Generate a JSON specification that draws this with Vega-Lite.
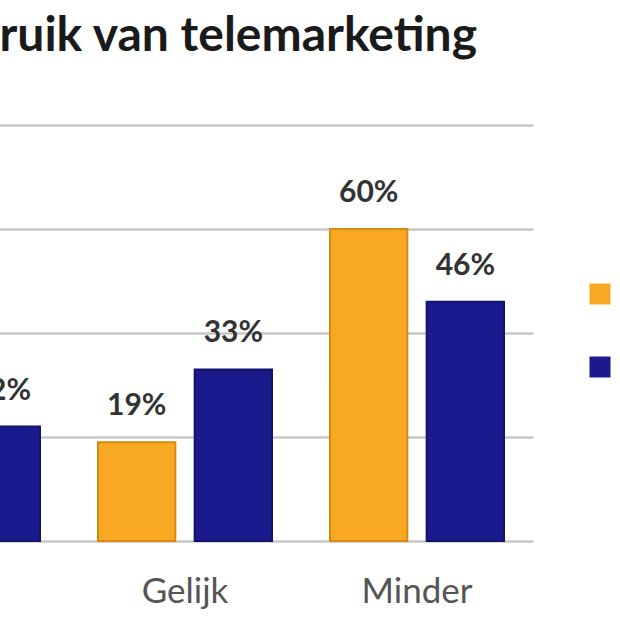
{
  "$schema": "https://vega.github.io/schema/vega-lite/v6.json",
  "autosize": "none",
  "padding": {"left": -163, "top": 125, "right": 87, "bottom": 79},
  "width": 696,
  "height": 416,
  "title": {
    "text": "Gebruik van telemarketing",
    "anchor": "start",
    "dx": 75,
    "offset": 26,
    "baseline": "alphabetic",
    "fontSize": 48,
    "font": "Lato",
    "fontWeight": "bold",
    "color": "#1a1a1a"
  },
  "data": {
    "values": [
      {"groep": "Meer", "reeks": "2008", "pct": 0.21},
      {"groep": "Meer", "reeks": "2009", "pct": 0.22},
      {"groep": "Gelijk", "reeks": "2008", "pct": 0.19},
      {"groep": "Gelijk", "reeks": "2009", "pct": 0.33},
      {"groep": "Minder", "reeks": "2008", "pct": 0.60},
      {"groep": "Minder", "reeks": "2009", "pct": 0.46}
    ]
  },
  "encoding": {
    "x": {
      "field": "groep",
      "type": "nominal",
      "sort": ["Meer", "Gelijk", "Minder"],
      "scale": {"paddingInner": 0.25, "paddingOuter": 0.125},
      "title": null,
      "axis": {
        "labelAngle": 0,
        "labelFont": "Lato",
        "labelFontSize": 35,
        "labelColor": "#555555",
        "labelPadding": 33,
        "ticks": false,
        "domain": false
      }
    },
    "xOffset": {
      "field": "reeks",
      "type": "nominal",
      "scale": {"paddingInner": 0.2, "paddingOuter": 0}
    },
    "y": {
      "field": "pct",
      "type": "quantitative",
      "scale": {"domain": [0, 0.8]},
      "title": null,
      "axis": {
        "values": [0, 0.2, 0.4, 0.6, 0.8],
        "labels": false,
        "ticks": false,
        "domain": false,
        "gridColor": "#c8c8c8",
        "gridWidth": 2.5
      }
    }
  },
  "layer": [
    {
      "mark": {"type": "bar", "strokeWidth": 2},
      "encoding": {
        "color": {
          "field": "reeks",
          "type": "nominal",
          "scale": {"range": ["#f8a823", "#1b1a8c"]},
          "legend": {
            "title": null,
            "orient": "none",
            "legendX": 750,
            "legendY": 156,
            "symbolType": "square",
            "symbolSize": 440,
            "symbolStrokeWidth": 0,
            "labelFont": "Lato",
            "labelFontSize": 26,
            "labelOffset": 18,
            "labelColor": "#555555",
            "rowPadding": 47
          }
        },
        "stroke": {
          "field": "reeks",
          "type": "nominal",
          "scale": {"range": ["#d88a10", "#12126a"]},
          "legend": null
        }
      }
    },
    {
      "mark": {
        "type": "text",
        "baseline": "alphabetic",
        "dy": -27,
        "font": "Lato",
        "fontSize": 30,
        "fontWeight": "bold",
        "color": "#333333"
      },
      "encoding": {
        "text": {"field": "pct", "type": "quantitative", "format": ".0%"}
      }
    }
  ],
  "config": {"view": {"stroke": null}}
}
